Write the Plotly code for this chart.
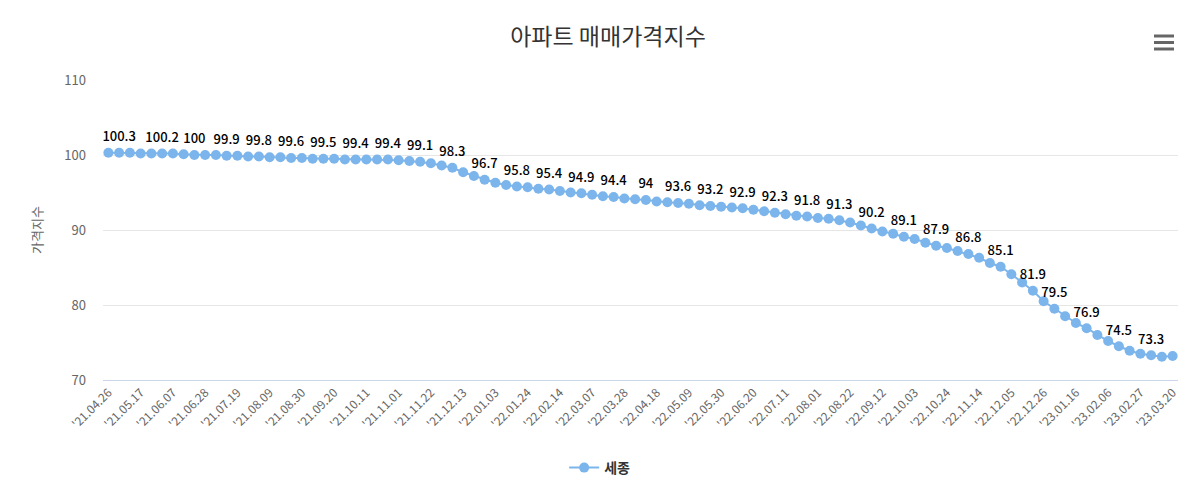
import pandas as pd
import plotly.graph_objects as go

# Weekly dates (categories)
dates = pd.date_range("2021-04-26", periods=100, freq="7D").strftime("%Y-%m-%d").tolist()

# 세종 apartment sale price index
values = [
    100.3, 100.3, 100.3, 100.2, 100.2, 100.2, 100.2, 100.1, 100.0, 100.0,
    100.0, 99.9, 99.9, 99.8, 99.8, 99.7, 99.7, 99.6, 99.6, 99.5,
    99.5, 99.5, 99.4, 99.4, 99.4, 99.4, 99.4, 99.3, 99.2, 99.1,
    98.9, 98.6, 98.3, 97.7, 97.2, 96.7, 96.3, 96.0, 95.8, 95.7,
    95.5, 95.4, 95.2, 95.0, 94.9, 94.7, 94.5, 94.4, 94.2, 94.1,
    94.0, 93.8, 93.7, 93.6, 93.5, 93.3, 93.2, 93.1, 93.0, 92.9,
    92.7, 92.5, 92.3, 92.1, 91.9, 91.8, 91.6, 91.5, 91.3, 91.0,
    90.6, 90.2, 89.8, 89.5, 89.1, 88.8, 88.3, 87.9, 87.6, 87.2,
    86.8, 86.3, 85.6, 85.1, 84.1, 83.0, 81.9, 80.5, 79.5, 78.5,
    77.6, 76.9, 76.0, 75.2, 74.5, 73.9, 73.5, 73.3, 73.1, 73.2,
]

# Points whose data labels are visible
label_index = [1, 5, 8, 11, 14, 17, 20, 23, 26, 29, 32, 35, 38, 41, 44, 47, 50,
               53, 56, 59, 62, 65, 68, 71, 74, 77, 80, 83, 86, 88, 91, 94, 97]

tick_labels = [
    "'21.04.26", "'21.05.17", "'21.06.07", "'21.06.28", "'21.07.19", "'21.08.09",
    "'21.08.30", "'21.09.20", "'21.10.11", "'21.11.01", "'21.11.22", "'21.12.13",
    "'22.01.03", "'22.01.24", "'22.02.14", "'22.03.07", "'22.03.28", "'22.04.18",
    "'22.05.09", "'22.05.30", "'22.06.20", "'22.07.11", "'22.08.01", "'22.08.22",
    "'22.09.12", "'22.10.03", "'22.10.24", "'22.11.14", "'22.12.05", "'22.12.26",
    "'23.01.16", "'23.02.06", "'23.02.27", "'23.03.20",
]
tick_vals = dates[::3]

series_name = "세종"
color = "#7cb5ec"
kfont = "Noto Sans CJK KR, Noto Sans, sans-serif"

fig = go.Figure()
fig.add_trace(go.Scatter(
    x=dates, y=values, name=series_name, mode="lines+markers",
    line=dict(color=color, width=2),
    marker=dict(color=color, size=10),
))
fig.add_trace(go.Scatter(
    x=[dates[i] for i in label_index], y=[values[i] for i in label_index],
    mode="markers+text", text=[f"{values[i]:g}" for i in label_index],
    marker=dict(size=12, opacity=0),
    textposition="top center", showlegend=False, hoverinfo="skip",
    textfont=dict(family=kfont, size=13, color="#000", weight=500),
))

# hamburger (export menu) icon
for py in [36, 42.5, 49]:
    yp = (380 - py) / 300
    fig.add_shape(type="line", xref="paper", yref="paper",
                  x0=(1154 - 103) / 1075, x1=(1174 - 103) / 1075, y0=yp, y1=yp,
                  line=dict(color="#666", width=3))

# page body adds an 8px offset, so margins are shifted by 8px
fig.update_layout(
    width=1200, height=486,
    margin=dict(l=95, r=30, t=72, b=114, autoexpand=False),
    paper_bgcolor="white", plot_bgcolor="white",
    title=dict(text="아파트 매매가격지수", x=0.5, xanchor="center",
               yref="container", y=1 - 29 / 486, yanchor="middle",
               font=dict(family=kfont, size=23, color="#333")),
    xaxis=dict(type="category", tickmode="array", tickvals=tick_vals, ticktext=tick_labels,
               tickangle=-45, tickfont=dict(family=kfont, size=12, color="#666"),
               showgrid=False, showline=True, linecolor="#ccd6eb", linewidth=1,
               ticks="", range=[-0.5, 99.5], automargin=False),
    yaxis=dict(range=[70, 110], tickvals=[70, 80, 90, 100, 110],
               tickfont=dict(family=kfont, size=13, color="#666"),
               gridcolor="#e6e6e6", gridwidth=1, zeroline=False, showline=False,
               title=dict(text="가격지수", font=dict(family=kfont, size=13, color="#666"),
                          standoff=18), ticklabelstandoff=16, automargin=False),
    showlegend=True,
    legend=dict(orientation="h", x=0.462, xanchor="center",
                yref="container", y=26 / 486, yanchor="middle",
                font=dict(family=kfont, size=14, color="#333", weight=600)),
)

fig.write_html("out.html")
